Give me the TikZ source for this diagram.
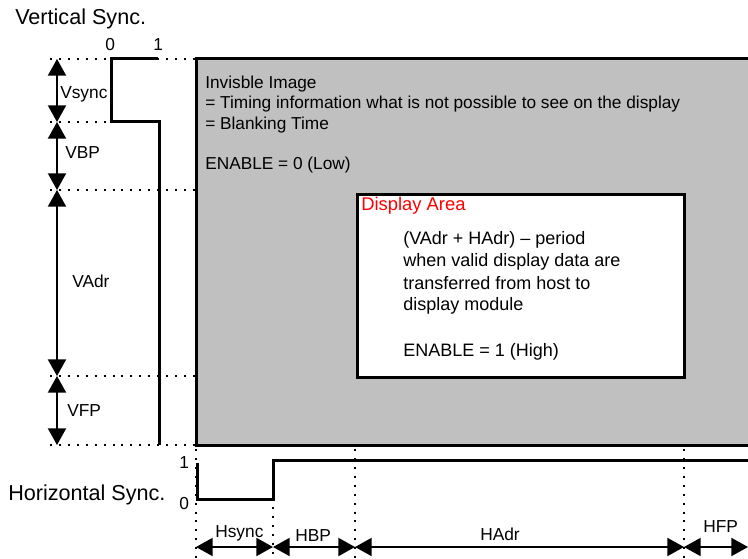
\documentclass[tikz,border=0pt]{standalone}
\usepackage{fontspec}
\setmainfont{Liberation Sans}
\usetikzlibrary{arrows.meta}
\definecolor{blankgray}{HTML}{C0C0C0}
\definecolor{dared}{HTML}{FF0000}
\tikzset{
  wave/.style={line width=2.25pt, line join=miter},
  dots/.style={line width=1.5pt, dash pattern=on 1.5pt off 5.2pt},
  dimarrow/.style={line width=1.5pt, {Triangle[length=12.5pt,width=13.5pt]}-{Triangle[length=12.5pt,width=13.5pt]}},
  title/.style={anchor=base west, inner sep=0pt, font=\fontsize{16.2}{19}\selectfont},
  lab/.style={anchor=base west, inner sep=0pt, font=\fontsize{13}{15}\selectfont},
  body/.style={anchor=base west, inner sep=0pt, font=\fontsize{12.95}{15}\selectfont},
  dbody/.style={anchor=base west, inner sep=0pt, font=\fontsize{13.5}{16}\selectfont},
}
\begin{document}
\begin{tikzpicture}[x=0.75pt,y=-0.75pt]
\useasboundingbox (0,0) rectangle (748,559);
% blanking area
\draw[line width=2.25pt, fill=blankgray] (760,59) -- (196,59) -- (196,445) -- (760,445);
% display area
\node[draw, line width=2.25pt, fill=white, minimum width=327*0.75pt, minimum height=183*0.75pt, inner sep=0pt, anchor=north west] (disp) at (356,193) {};
% dotted guide lines (vertical sync)
\coordinate (g1a) at (50,59);  \coordinate (g1b) at (195,59);
\coordinate (g2a) at (50,122); \coordinate (g2b) at (111,122);
\coordinate (g3a) at (50,190); \coordinate (g3b) at (195,190);
\coordinate (g4a) at (50,376); \coordinate (g4b) at (195,376);
\coordinate (g5a) at (50,445); \coordinate (g5b) at (195,445);
\draw[dots] (g1a) -- (g1b);
\draw[dots] (g2a) -- (g2b);
\draw[dots] (g3a) -- (g3b);
\draw[dots] (g4a) -- (g4b);
\draw[dots] (g5a) -- (g5b);
% dotted guide lines (horizontal sync)
\coordinate (h1a) at (196,449); \coordinate (h1b) at (196,559);
\coordinate (h2a) at (273,507); \coordinate (h2b) at (273,559);
\coordinate (h3a) at (355,449); \coordinate (h3b) at (355,559);
\coordinate (h4a) at (684,449); \coordinate (h4b) at (684,559);
\draw[dots] (h1a) -- (h1b);
\draw[dots] (h2a) -- (h2b);
\draw[dots] (h3a) -- (h3b);
\draw[dots] (h4a) -- (h4b);
% vertical sync waveform
\draw[wave] (158,59) -- (111,59) -- (111,122) -- (159,122) -- (159,445);
% horizontal sync waveform
\draw[wave] (197,463) -- (197,499) -- (273,499) -- (273,460) -- (760,460);
% vertical dimension arrows
\coordinate (va) at (57,59);
\coordinate (vb) at (57,122);
\coordinate (vc) at (57,190);
\coordinate (vd) at (57,376);
\coordinate (ve) at (57,445);
\draw[dimarrow] (va) -- (vb);
\draw[dimarrow] (vb) -- (vc);
\draw[dimarrow] (vc) -- (vd);
\draw[dimarrow] (vd) -- (ve);
% horizontal dimension arrows
\coordinate (ha) at (196,547);
\coordinate (hb) at (273,547);
\coordinate (hc) at (355,547);
\coordinate (hd) at (684,547);
\coordinate (he) at (748,547);
\draw[dimarrow] (ha) -- (hb);
\draw[dimarrow] (hb) -- (hc);
\draw[dimarrow] (hc) -- (hd);
\draw[dimarrow] (hd) -- (he);
% titles
\node[title] (tv) at (15,25) {Vertical Sync.};
\node[title] (th) at (8,500) {Horizontal Sync.};
% level labels
\node[lab] (v0) at (105,51) {0};
\node[lab] (v1) at (153,51) {1};
\node[lab] (h1) at (179,468) {1};
\node[lab] (h0) at (179,509) {0};
% dimension labels
\node[lab] (lvs) at (60,99) {Vsync};
\node[lab] (lvbp) at (65,159) {VBP};
\node[lab] (lvadr) at (72,287) {VAdr};
\node[lab] (lvfp) at (67,416) {VFP};
\node[lab] (lhs) at (215,537) {Hsync};
\node[lab] (lhbp) at (295,541) {HBP};
\node[lab] (lhadr) at (480,540) {HAdr};
\node[lab] (lhfp) at (703,532) {HFP};
% blanking text
\node[body] (b1) at (205,89) {Invisble Image};
\node[body] (b2) at (205,109) {= Timing information what is not possible to see on the display};
\node[body] (b3) at (205,130) {= Blanking Time};
\node[body] (b4) at (205,170) {ENABLE = 0 (Low)};
% display area text
\node[body, text=dared, font=\fontsize{13.8}{16}\selectfont] (d0) at (361,211) {Display Area};
\node[dbody] (d1) at (403,245) {(VAdr + HAdr) – period};
\node[dbody] (d2) at (403,267) {when valid display data are};
\node[dbody] (d3) at (403,289) {transferred from host to};
\node[dbody] (d4) at (403,310) {display module};
\node[dbody] (d5) at (403,356) {ENABLE = 1 (High)};
\end{tikzpicture}
\end{document}
